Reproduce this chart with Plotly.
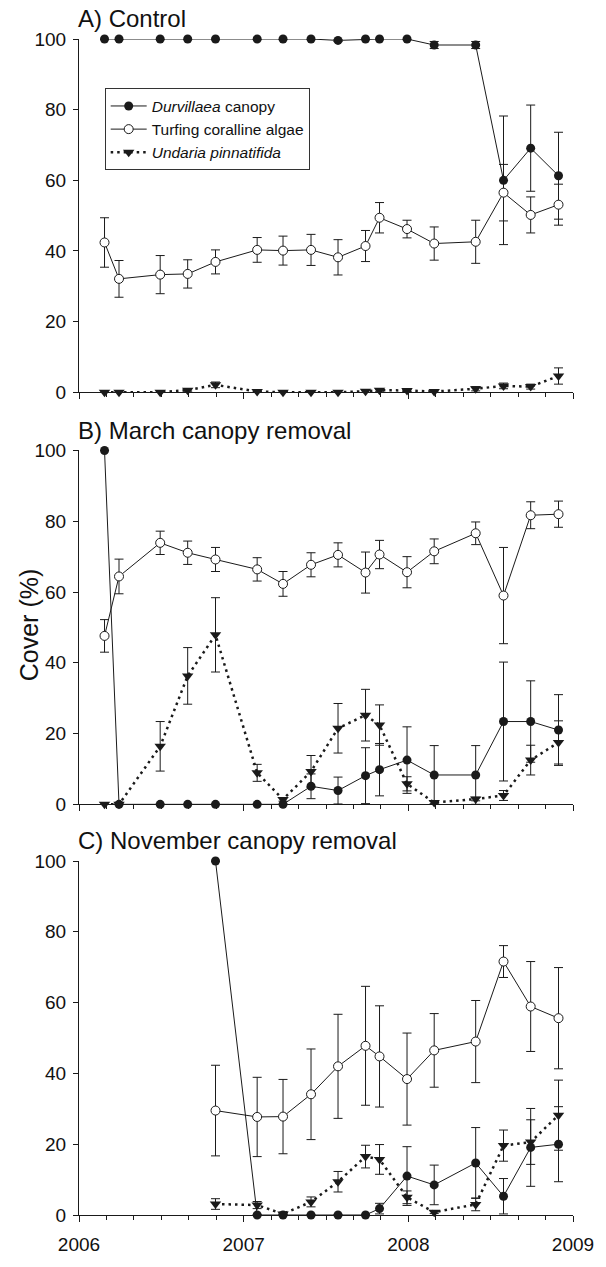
import plotly.graph_objects as go

# Sampling dates (decimal years)
dates = [2006.155, 2006.243, 2006.493, 2006.660, 2006.829, 2007.082, 2007.239,
         2007.409, 2007.573, 2007.740, 2007.825, 2007.992, 2008.157, 2008.409,
         2008.578, 2008.743, 2008.912]
dates_C = dates[4:]

# A) Control
durv_A = [100, 100, 100, 100, 100, 100, 100, 100, 99.6, 100, 100, 100, 98.3, 98.3, 60.0, 69.1, 61.3]
durv_A_err = [0, 0, 0, 0, 0, 0, 0, 0, 0.3, 0, 0, 0, 1.0, 1.0, 18.2, 12.2, 12.3]
turf_A = [42.4, 32.1, 33.3, 33.5, 36.9, 40.3, 40.1, 40.3, 38.2, 41.4, 49.4, 46.2, 42.1, 42.6, 56.5, 50.2, 53.1]
turf_A_err = [7.0, 5.2, 5.4, 4.0, 3.4, 3.5, 4.1, 4.4, 5.0, 4.4, 4.3, 2.5, 4.7, 6.1, 8.0, 5.1, 5.8]
und_A = [0, 0, 0, 0.6, 2.1, 0.2, 0, 0, 0, 0.3, 0.6, 0.5, 0.2, 1.0, 1.8, 1.6, 4.6]
und_A_err = [0, 0, 0, 0.3, 0.8, 0.2, 0, 0, 0, 0.3, 0.3, 0.3, 0.2, 0.6, 0.8, 0.7, 2.3]

# B) March canopy removal
durv_B = [100, 0, 0, 0, 0, 0, 0, 5.1, 3.9, 8.1, 9.8, 12.5, 8.3, 8.3, 23.4, 23.4, 21.0]
durv_B_err = [0, 0, 0, 0, 0, 0, 0, 3.5, 3.8, 7.9, 7.4, 9.4, 8.3, 8.3, 16.8, 11.5, 10.0]
turf_B = [47.6, 64.4, 73.9, 71.1, 69.2, 66.4, 62.3, 67.7, 70.5, 65.5, 70.6, 65.6, 71.5, 76.6, 59.0, 81.7, 82.0]
turf_B_err = [4.6, 4.9, 3.3, 3.3, 3.4, 3.3, 3.5, 3.4, 3.4, 5.8, 4.0, 4.4, 3.5, 3.2, 13.6, 3.8, 3.7]
und_B = [0, 0, 16.4, 36.3, 47.9, 8.9, 1.4, 9.3, 21.5, 25.2, 22.4, 5.8, 0.5, 1.5, 2.5, 12.5, 17.5]
und_B_err = [0, 0, 7.0, 8.0, 10.5, 2.4, 0.5, 4.5, 7.0, 7.3, 5.7, 2.0, 0.3, 0.5, 1.4, 4.2, 6.1]

# C) November canopy removal
durv_C = [100, 0, 0, 0, 0, 0, 1.8, 11.0, 8.5, 14.7, 5.3, 19.1, 20.0]
durv_C_err = [0, 0, 0, 0, 0, 0, 1.5, 8.3, 5.6, 10.0, 5.0, 11.0, 10.6]
turf_C = [29.5, 27.7, 27.8, 34.1, 42.0, 47.8, 44.8, 38.4, 46.5, 49.0, 71.6, 58.9, 55.6]
turf_C_err = [12.8, 11.2, 10.5, 12.8, 14.7, 16.8, 14.3, 13.0, 10.4, 11.6, 4.5, 12.7, 14.3]
und_C = [3.1, 2.8, 0.3, 3.7, 9.4, 16.5, 15.7, 5.0, 0.8, 3.0, 19.6, 20.6, 28.2]
und_C_err = [1.5, 1.0, 0.2, 1.4, 2.9, 3.2, 4.2, 1.8, 0.4, 1.8, 4.4, 6.3, 9.9]

series_names = ["<i>Durvillaea</i> canopy", "Turfing coralline algae", "<i>Undaria pinnatifida</i>"]
panel_titles = ["A) Control", "B) March canopy removal", "C) November canopy removal"]
x_ticks = [2006, 2007, 2008, 2009]
y_ticks = [0, 20, 40, 60, 80, 100]

FONT = "Liberation Sans, Arial, sans-serif"
INK = "#1a1a1a"

panels = [
    (dates, durv_A, durv_A_err, turf_A, turf_A_err, und_A, und_A_err),
    (dates, durv_B, durv_B_err, turf_B, turf_B_err, und_B, und_B_err),
    (dates_C, durv_C, durv_C_err, turf_C, turf_C_err, und_C, und_C_err),
]

fig = go.Figure()

for i, (xd, dv, de, tv, te, uv, ue) in enumerate(panels):
    ax = "" if i == 0 else str(i + 1)
    show = i == 0
    eb = lambda arr: dict(type="data", array=arr, visible=True, color=INK, thickness=1, width=4.5)
    fig.add_trace(go.Scatter(
        x=xd, y=uv, mode="lines+markers", name=series_names[2], showlegend=show,
        legendrank=3, cliponaxis=False,
        line=dict(color=INK, width=2.5, dash="2.5px,4px"),
        marker=dict(symbol="triangle-down", size=10, color=INK, line=dict(width=0)),
        error_y=eb(ue), xaxis="x" + ax, yaxis="y" + ax))
    fig.add_trace(go.Scatter(
        x=xd, y=dv, mode="lines+markers", name=series_names[0], showlegend=show,
        legendrank=1, cliponaxis=False,
        line=dict(color=INK, width=1),
        marker=dict(symbol="circle", size=9, color=INK, line=dict(width=0)),
        error_y=eb(de), xaxis="x" + ax, yaxis="y" + ax))
    fig.add_trace(go.Scatter(
        x=xd, y=tv, mode="lines+markers", name=series_names[1], showlegend=show,
        legendrank=2, cliponaxis=False,
        line=dict(color=INK, width=1),
        marker=dict(symbol="circle", size=9, color="white", line=dict(color=INK, width=1)),
        error_y=eb(te), xaxis="x" + ax, yaxis="y" + ax))

domains = [[0.6996, 1.0], [0.3492, 0.6501], [0.0, 0.3010]]
tops_px = [39, 457.5, 875]

axis_common = dict(showline=True, linecolor=INK, linewidth=1, showgrid=False, zeroline=False,
                   ticks="outside", tickcolor=INK, tickwidth=1,
                   tickfont=dict(family=FONT, size=19, color="#111"))

layout = dict(
    width=606, height=1267,
    margin=dict(l=79, r=26, t=39, b=32),
    paper_bgcolor="white", plot_bgcolor="white",
    showlegend=True,
    legend=dict(x=0.052, y=0.958, xanchor="left", yanchor="top",
                bordercolor="#333", borderwidth=1, bgcolor="white",
                font=dict(family=FONT, size=15.5, color="#111"),
                traceorder="normal", itemwidth=36, tracegroupgap=0),
)

annotations = []
for i in range(3):
    ax = "" if i == 0 else str(i + 1)
    layout["xaxis" + ax] = dict(
        axis_common, domain=[0, 1], anchor="y" + ax, range=[2006, 2009],
        tickmode="array", tickvals=x_ticks, ticktext=[str(v) for v in x_ticks],
        ticklen=6, showticklabels=(i == 2), ticklabelstandoff=6,
        minor=dict(ticks="outside", ticklen=4, dtick=1 / 6, tick0=2006,
                   tickcolor=INK, tickwidth=1, showgrid=False))
    layout["yaxis" + ax] = dict(
        axis_common, domain=domains[i], anchor="x" + ax, range=[0, 100],
        tickmode="array", tickvals=y_ticks, ticklen=5, ticklabelstandoff=3)
    center_px = tops_px[i] - 20.7
    annotations.append(dict(
        text=panel_titles[i], xref="paper", yref="paper",
        x=-0.006, y=(1235 - center_px) / 1196, xanchor="left", yanchor="middle",
        showarrow=False, font=dict(family=FONT, size=24, color="#111")))

annotations.append(dict(
    text="Cover (%)", xref="paper", yref="paper", x=(28 - 79) / 501, y=(1235 - 634.5) / 1196,
    xanchor="center", yanchor="middle", textangle=-90, showarrow=False,
    font=dict(family=FONT, size=25, color="#111")))

layout["annotations"] = annotations
fig.update_layout(layout)

fig.write_html("out.html")
